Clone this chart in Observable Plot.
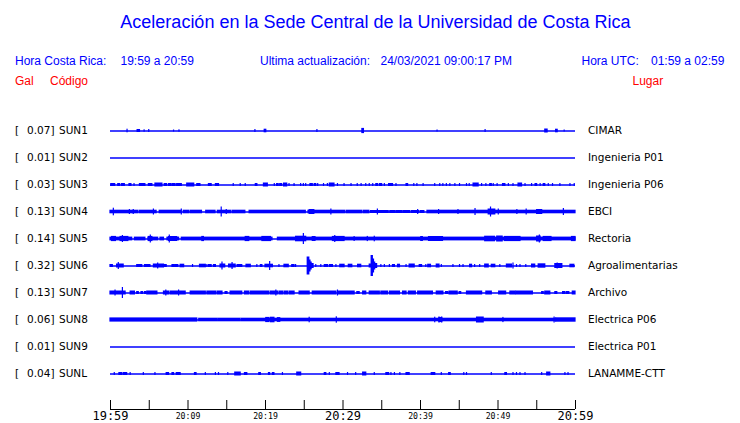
<!DOCTYPE html>
<html><head><meta charset="utf-8">
<script src="https://cdn.jsdelivr.net/npm/d3@7"></script>
<script src="https://cdn.jsdelivr.net/npm/@observablehq/plot@0.6"></script>
<style>
body{margin:0;background:#fff;}
#page{position:relative;width:740px;height:423px;overflow:hidden;background:#fff;font-family:"Liberation Sans",Arial,sans-serif;}
.h{position:absolute;white-space:nowrap;font-size:12px;line-height:14px;}
.blue{color:#0000ff}.red{color:#ff0000}
#title{position:absolute;left:0;width:751px;text-align:center;top:12px;font-size:18px;line-height:20px;color:#0000ff;white-space:nowrap;}
#traces{position:absolute;left:0;top:100px}
#axis{position:absolute;left:0;top:400px}
</style></head><body>
<div id="page">
  <div id="title">Aceleración en la Sede Central de la Universidad de Costa Rica</div>
  <div class="h blue" style="left:15px;top:54px">Hora Costa Rica:</div>
  <div class="h blue" style="left:120.5px;top:54px">19:59 a 20:59</div>
  <div class="h blue" style="left:260px;top:54px">Ultima actualización:</div>
  <div class="h blue" style="left:380.5px;top:54px">24/03/2021 09:00:17 PM</div>
  <div class="h blue" style="left:581.5px;top:54px">Hora UTC:</div>
  <div class="h blue" style="left:651px;top:54px">01:59 a 02:59</div>
  <div class="h red" style="left:15px;top:74px">Gal</div>
  <div class="h red" style="left:50px;top:74px">Código</div>
  <div class="h red" style="left:632.5px;top:74px">Lugar</div>
  <div id="traces"></div>
  <div id="axis"></div>
</div>
<script>
// Station codes, peak acceleration (Gal) and place names
const stations = ["SUN1","SUN2","SUN3","SUN4","SUN5","SUN6","SUN7","SUN8","SUN9","SUNL"];
const gals = ["0.07","0.01","0.03","0.13","0.14","0.32","0.13","0.06","0.01","0.04"];
const places = ["CIMAR","Ingenieria P01","Ingenieria P06","EBCI","Rectoria","Agroalimentarias","Archivo","Electrica P06","Electrica P01","LANAMME-CTT"];

// Time axis (minutes after 19:59)
const tickMinutes = [0,5,10,15,20,25,30,35,40,45,50,55,60];
const labelMinutes = [0,10,20,30,40,50,60];
const timeLabels = ["19:59","20:09","20:19","20:29","20:39","20:49","20:59"];

// Trace envelopes: [start minute, end minute, relative amplitude]
const sun1 = [[2.2,2.2,1.8],[3.5,3.8,1.5],[4.4,4.4,1.2],[5.0,5.0,1.5],[8.2,8.2,1],[8.9,8.9,1.2],[18.7,18.7,1.5],[19.9,20.1,1.8],[26.7,26.7,1.5],[32.5,32.7,2.6],[42.2,42.2,1],[48.4,48.4,1.5],[56.1,56.4,2],[57.5,57.7,1.8],[58.6,58.6,1]];
const sun2 = [];
const sun3 = [[0.1,0.6,1.5],[1.0,1.25,1.5],[1.5,1.85,1.5],[2.45,2.7,1.5],[3.1,3.1,1.5],[3.8,4.1,1.5],[4.2,4.5,1.5],[4.95,5.4,1.5],[5.8,6.7,2],[7.0,7.3,1.5],[7.55,7.85,1.5],[8.0,8.4,1.5],[8.6,9.2,1.5],[9.9,10.8,2],[11.2,11.6,1.5],[12.7,13.05,1.5],[13.6,14.0,1.5],[15.9,15.9,1.5],[16.8,16.8,1.5],[17.45,17.45,1.5],[18.75,18.95,1.5],[19.8,20.3,2],[21.2,21.2,1.5],[21.5,21.7,1.5],[21.9,22.15,1.5],[22.4,22.8,2],[23.1,23.1,1.5],[23.75,23.75,1.5],[24.6,24.6,1.5],[24.95,24.95,1.5],[25.25,25.25,1.5],[25.8,26.1,1.5],[26.35,26.55,1.5],[26.8,26.8,1.5],[27.55,27.55,1.5],[28.05,28.05,1.5],[28.3,28.9,2],[29.35,29.35,1.5],[30.2,30.2,1.5],[31.1,31.1,1.5],[31.9,31.9,1.5],[32.4,32.4,1.5],[33.0,33.0,1.5],[33.45,33.45,1.5],[33.9,33.9,1.5],[34.3,34.5,1.5],[34.75,35.05,1.5],[35.4,35.4,1.5],[35.95,36.45,1.5],[36.9,36.9,1.5],[38.2,38.4,1.5],[39.2,39.2,1.5],[39.6,39.6,1.5],[40.4,40.4,1.5],[41.9,41.9,1.5],[42.55,42.55,1.5],[42.95,42.95,1.5],[43.4,43.4,1.5],[43.85,43.85,1.5],[44.5,44.5,1.5],[45.1,45.1,1.5],[46.0,46.0,1.5],[46.35,46.35,1.5],[46.85,47.5,2],[47.95,47.95,1.5],[48.5,48.5,1.5],[49.0,49.2,1.5],[49.45,49.45,1.5],[49.95,49.95,1.5],[50.65,50.95,1.5],[51.4,51.4,1.5],[52.0,52.0,1.5],[52.65,53.1,2],[53.55,53.55,1.5],[54.4,54.4,1.5],[54.85,55.05,1.5],[55.5,55.5,1.5],[55.9,56.1,1.5],[56.55,56.55,1.5],[57.1,57.1,1.5],[58.05,58.05,1.5],[59.35,59.35,1.5],[59.9,59.9,1.5]];
const sun4 = [[0,3.6,1.8],[3.8,5.95,1.8],[6.35,9.15,1.8],[9.45,10.2,1.8],[10.4,11.8,1.8],[12.35,13.55,1.8],[13.85,15.6,1.8],[15.8,17.4,1.8],[17.95,25.2,1.8],[25.55,30.3,1.8],[30.5,32.5,1.8],[32.7,33.4,1.8],[33.6,35.9,1.5],[36.1,36.8,1.5],[36.95,37.7,1.5],[37.85,38.7,1.5],[38.9,39.8,1.5],[40.0,40.5,1.5],[40.9,60,1.8],[0.43,0.43,3.8],[2.5,2.5,2.5],[3.0,3.0,2.5],[5.6,5.6,3],[9.2,9.2,3],[14.35,14.35,5],[15.0,15.0,2.5],[25.7,26.3,2.5],[28.5,28.5,3],[34.5,34.5,3],[39.7,39.7,2.5],[42.4,42.4,2.5],[44.9,44.9,2.5],[47.1,47.1,3.5],[48.8,49.65,3],[49.1,49.1,5],[50.1,50.1,3],[52.5,52.5,2.5],[53.7,53.7,3],[55.05,55.7,2.5],[58.5,58.5,3.5]];
const sun5 = [[0,2.8,1.9],[3.15,4.5,1.9],[4.9,6.15,1.9],[6.45,6.9,1.9],[7.35,8.85,1.9],[9.2,20.9,1.9],[21.6,60,1.9],[0.2,0.7,2.6],[1.3,2.3,2.6],[1.6,1.6,3.5],[4.95,5.4,2.6],[5.2,5.2,4],[7.55,8.6,2.5],[7.65,7.65,4],[11.85,12.05,2.6],[17.45,17.9,2.6],[19.6,20.7,2.6],[23.95,25.25,2.8],[24.95,24.95,5.5],[26.1,26.45,2.5],[28.7,30.2,2.6],[29.0,29.0,3.5],[31.5,31.5,2.5],[33.2,33.2,2.6],[34.1,34.1,2.8],[40.1,40.3,2.5],[41.1,42.9,2.5],[48.35,49.6,2.8],[49.9,50.6,3],[50.9,52.9,2.6],[55.05,55.5,3],[55.4,55.4,4],[55.9,56.9,2.6],[59.55,60,2.6]];
const sun6 = [[0,0.3,1.5],[0.85,1.7,2],[1.07,1.07,3.5],[3.45,4.1,1.5],[4.45,5.15,1.5],[5.6,6.9,2],[6.15,6.15,3],[7.0,7.25,1.5],[8.0,8.3,1.5],[8.4,8.75,1.5],[9.05,9.5,1.8],[10.65,10.65,1.5],[11.55,12.3,1.8],[12.5,12.5,1.5],[12.7,13.05,1.5],[13.35,13.6,1.5],[14.2,14.8,2],[14.45,14.45,4],[15.3,16.15,2],[15.75,15.75,3.5],[16.4,17.0,1.5],[17.55,18.1,1.8],[18.95,18.95,1.5],[19.4,19.6,1.5],[20.0,20.95,1.8],[20.6,20.6,4.5],[21.8,21.8,1.5],[22.45,23.0,1.8],[23.45,23.75,1.5],[23.95,23.95,1.5],[25.45,25.65,9],[25.65,25.8,6],[25.8,25.95,4],[25.95,26.2,2.5],[26.55,26.55,1.5],[27.2,27.2,1.5],[27.65,28.05,1.5],[28.3,28.7,1.5],[29.15,29.15,1.5],[29.65,30.2,1.8],[30.75,31.2,1.8],[31.95,32.35,1.8],[33.45,33.7,2],[33.7,33.85,10.5],[33.85,34.0,7],[34.0,34.15,4],[34.15,34.4,2.5],[34.95,34.95,1.5],[35.4,35.4,1.5],[36.05,36.05,1.5],[36.45,36.7,1.5],[37.1,37.35,1.8],[38.2,38.2,1.5],[38.6,39.25,2],[39.9,40.2,1.5],[40.75,40.75,1.5],[41.0,41.35,1.8],[42.1,42.45,2],[42.75,42.75,1.5],[44.25,44.25,1.5],[45.1,45.1,1.5],[45.55,45.55,1.5],[46.4,46.65,1.8],[47.05,47.05,1.5],[47.7,47.7,1.5],[48.35,48.8,2],[49.2,49.65,1.8],[50.3,50.3,1.5],[51.15,51.8,2],[52.0,52.0,3],[52.45,52.45,1.5],[52.9,52.9,1.5],[53.65,53.65,1.5],[54.4,54.8,2],[55.25,56.1,2.2],[57.4,58.3,2.5],[57.7,57.7,3],[59.35,59.85,1.8]];
const sun7 = [[0,1.95,2],[0.65,0.65,3],[1.6,1.6,5.5],[2.6,3.15,2],[3.45,3.65,1.5],[4.0,4.2,1.5],[4.45,4.65,1.5],[4.75,6.05,2],[6.9,7.55,2],[7.2,7.2,3],[7.75,9.7,2],[8.85,8.85,3],[10.35,12.3,2],[12.5,13.6,2],[13.8,14.45,2],[14.85,15.1,1.5],[15.5,17.0,2],[17.35,17.9,2],[18.1,20.5,2],[20.7,21.6,2],[21.4,21.4,3],[21.8,22.25,2],[22.45,22.9,2],[23.1,23.75,2],[24.4,25.7,2],[26.1,29.15,2],[29.35,29.35,3],[29.35,31.5,2],[31.85,32.15,1.5],[32.6,33.0,2],[33.45,34.75,2],[34.95,35.8,2],[36.05,37.35,2],[37.75,38.2,2],[38.5,39.4,2],[39.7,41.6,2],[42.1,42.95,2],[43.3,43.6,1.5],[43.75,44.8,2],[45.05,45.25,1.5],[46.0,47.95,2],[48.5,49.2,2],[50.15,51.05,2],[51.6,52.25,2],[52.35,54.5,2],[55.7,55.9,1.5],[56.1,56.75,2],[57.4,57.65,1.5],[58.4,58.7,1.5],[58.9,59.2,1.5],[59.65,60,2]];
const sun8 = [[0,11.2,2.1],[11.45,13.75,1.8],[13.9,16.75,1.8],[16.9,57.5,1.8],[57.5,60,2.2],[20.1,20.5,2.6],[20.7,21.15,2.8],[21.6,21.9,2.4],[25.7,25.7,2.8],[29.2,29.2,3.2],[41.9,41.9,2.8],[42.45,42.8,2.6],[42.45,42.45,3],[42.8,42.8,3],[47.3,48.15,3],[50.7,50.7,2.6],[57.3,57.3,3]];
const sun9 = [];
const sunl = [[0.55,0.55,1.5],[1.15,1.5,1.5],[1.7,2.15,1.5],[2.6,2.6,1.5],[4.3,4.3,1.5],[5.8,5.8,1.5],[7.25,7.55,1.5],[8.0,8.2,1.5],[8.55,9.05,1.5],[10.9,11.1,1.5],[12.3,12.3,1.5],[13.6,13.6,1.5],[14.0,14.0,1.5],[15.2,15.2,1.5],[16.1,16.8,2],[17.35,17.65,1.5],[19.2,19.4,1.5],[20.45,20.6,1.5],[20.95,21.15,1.5],[22.25,22.25,1.5],[24.1,24.6,2],[27.65,27.85,1.5],[28.3,28.3,1.5],[29.15,29.55,1.5],[30.65,30.65,1.5],[31.7,31.7,1.5],[32.6,33.0,2],[34.1,34.1,1.5],[35.6,35.95,1.5],[36.25,36.25,1.5],[36.7,36.7,1.5],[37.4,37.4,1.5],[38.2,38.6,1.5],[41.45,41.9,1.5],[42.75,42.75,1.5],[43.7,43.9,1.5],[45.65,45.65,1.5],[46.0,46.0,1.5],[49.2,49.2,1.5],[50.95,51.15,1.5],[52.0,52.0,1.5],[52.45,52.45,1.5],[52.9,52.9,1.5],[53.55,53.55,1.5],[55.7,55.7,1.5],[56.35,56.75,2],[58.7,58.7,1.5],[59.1,59.1,1.5]];

const traces = [sun1, sun2, sun3, sun4, sun5, sun6, sun7, sun8, sun9, sunl];
const table = stations.flatMap((s, i) => traces[i].map(([t0, t1, amp]) => ({station: s, t0, t1, amp})));
const galOf = new Map(stations.map((s, i) => [s, gals[i]]));
const placeOf = new Map(stations.map((s, i) => [s, places[i]]));

const BLUE = "#0000ff";
const chart = Plot.plot({
  width: 740, height: 300,
  marginLeft: 110, marginRight: 165, marginTop: 17, marginBottom: 13,
  x: {domain: [0, 60], axis: null},
  y: {domain: [-13.5, 13.5], axis: null},
  fy: {domain: stations, padding: 0, axis: null},
  style: {fontFamily: "DejaVu Sans", fontSize: "10.5px", background: "white", color: "black", overflow: "visible"},
  marks: [
    Plot.ruleY(stations, {fy: d => d, y: () => 0, stroke: BLUE, strokeWidth: 1.5}),
    Plot.rect(table, {fy: "station", x1: "t0", x2: "t1", y1: d => -d.amp, y2: "amp", fill: BLUE, insetLeft: -0.6, insetRight: -0.6}),
    Plot.text(stations, {fy: d => d, frameAnchor: "left", dx: -95.5, textAnchor: "start", text: () => "[", fill: "black"}),
    Plot.text(stations, {fy: d => d, frameAnchor: "left", dx: -56, textAnchor: "end", text: d => galOf.get(d) + "]", fill: "black"}),
    Plot.text(stations, {fy: d => d, frameAnchor: "left", dx: -51.5, textAnchor: "start", text: d => d, fill: "black"}),
    Plot.text(stations, {fy: d => d, frameAnchor: "right", dx: 12.5, textAnchor: "start", text: d => placeOf.get(d), fill: "black"})
  ]
});
document.getElementById("traces").appendChild(chart);

const labels = labelMinutes.map((m, i) => ({m, label: timeLabels[i], major: i % 3 === 0}));
const axis = Plot.plot({
  width: 740, height: 23,
  marginLeft: 110, marginRight: 165, marginTop: 0, marginBottom: 14,
  x: {domain: [0, 60], axis: null},
  y: {domain: [0, 1], axis: null},
  style: {fontFamily: "DejaVu Sans Mono", background: "white", color: "black", overflow: "visible"},
  marks: [
    Plot.ruleY([0], {stroke: "black"}),
    Plot.ruleX(tickMinutes, {stroke: "black"}),
    Plot.text(labels.filter(d => d.major), {x: "m", text: "label", frameAnchor: "bottom", lineAnchor: "middle", dy: 7, fontSize: 12, fill: "black"}),
    Plot.text(labels.filter(d => !d.major), {x: "m", text: "label", frameAnchor: "bottom", lineAnchor: "middle", dy: 7, fontSize: 8.2, fill: "black"})
  ]
});
document.getElementById("axis").appendChild(axis);
</script>
</body></html>
